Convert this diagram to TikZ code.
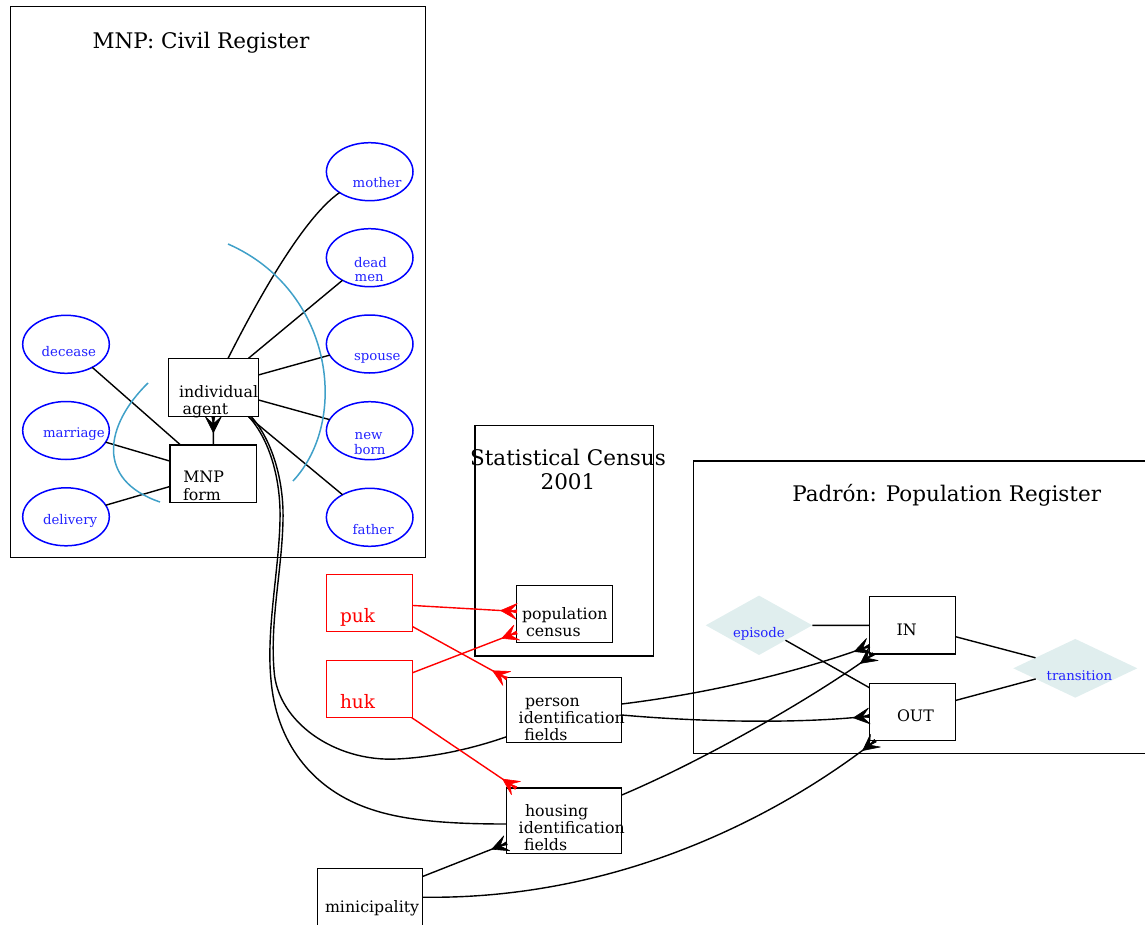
\documentclass[tikz,border=0pt]{standalone}
\usepackage{fontspec}
\setmainfont{DejaVu Serif}
\usetikzlibrary{arrows.meta,shapes.geometric,calc}

\definecolor{arcblue}{HTML}{3FA0C8}
\definecolor{azuretwo}{HTML}{E0EEEE}
\definecolor{labelblue}{HTML}{2222FF}

% crow's-foot tip: apex away from the node, prongs spread at the node
\pgfdeclarearrow{
  name = Crowfoot,
  parameters = {\the\pgfarrowlength,\the\pgfarrowwidth},
  setup code = {
    \pgfarrowssettipend{\pgfarrowlength}
    \pgfarrowssetlineend{\pgfarrowlength}
    \pgfarrowssetbackend{0pt}
    \pgfarrowshullpoint{\pgfarrowlength}{.5\pgfarrowwidth}
    \pgfarrowshullpoint{\pgfarrowlength}{-.5\pgfarrowwidth}
    \pgfarrowshullpoint{0pt}{0pt}
    \pgfarrowssavethe\pgfarrowlength
    \pgfarrowssavethe\pgfarrowwidth
  },
  drawing code = {
    \pgfsetroundjoin
    \pgfpathmoveto{\pgfqpoint{0pt}{0pt}}
    \pgfpathlineto{\pgfqpoint{\pgfarrowlength}{.5\pgfarrowwidth}}
    \pgfpathlineto{\pgfqpoint{.55\pgfarrowlength}{0pt}}
    \pgfpathlineto{\pgfqpoint{\pgfarrowlength}{-.5\pgfarrowwidth}}
    \pgfpathclose
    \pgfpathmoveto{\pgfqpoint{.5\pgfarrowlength}{0pt}}
    \pgfpathlineto{\pgfqpoint{\pgfarrowlength}{.1\pgfarrowwidth}}
    \pgfpathlineto{\pgfqpoint{\pgfarrowlength}{-.1\pgfarrowwidth}}
    \pgfpathclose
    \pgfsetlinewidth{0.6pt}
    \pgfusepathqfillstroke
  },
  defaults = {length = 16pt, width = 16pt}
}

\begin{document}
\begin{tikzpicture}[x=1pt,y=-1pt,
  every node/.style={inner sep=0pt, outer sep=0pt},
  cluster/.style={draw, line width=1.4pt},
  box/.style={draw, line width=1.5pt, rectangle},
  redbox/.style={draw=red, line width=1.4pt, rectangle},
  oval/.style={draw=blue, line width=1.5pt, ellipse, minimum width=86.6pt, minimum height=58pt},
  gem/.style={diamond, fill=azuretwo, draw=none},
  edge/.style={line width=1.4pt},
  crow/.style={-{Crowfoot[length=16pt,width=16pt]}},
  redge/.style={edge, red, crow},
  arc/.style={arcblue, line width=1.5pt},
  title/.style={anchor=base, font=\fontsize{21.5}{24.3}\selectfont},
  lbl/.style={anchor=base west, font=\fontsize{15.8}{18}\selectfont},
  rlbl/.style={anchor=base west, red, font=\fontsize{18.5}{21}\selectfont},
  olbl/.style={anchor=base west, labelblue, font=\fontsize{13.3}{14.7}\selectfont}
]
\useasboundingbox (0,0) rectangle (1145,925);

% ---- clusters ----
\draw[cluster] (10.7,6.7) rectangle (425.7,557.5);
\draw[cluster] (475,425.3) rectangle (653.3,656);
\draw[cluster] (693.3,461) rectangle (1160,753.3);
\node[title] (tMNP) at (201,48.3) {MNP: Civil Register};
\node[title] (tSC1) at (568,465) {Statistical Census};
\node[title] (tSC2) at (568,489.3) {2001};
\node[title] (tPAD) at (946.7,501.7) {Padrón: Population Register};

% ---- civil register ----
\node[box, minimum width=90pt, minimum height=58.4pt] (ia) at (213.3,387.5) {};
\node[box, minimum width=86.7pt, minimum height=57.7pt] (mf) at (213.35,473.85) {};
\node[lbl] (tia1) at (179,397) {individual};
\node[lbl] (tia2) at (182.7,414) {agent};
\node[lbl] (tmf1) at (183.3,482.7) {MNP};
\node[lbl] (tmf2) at (183,500) {form};

\node[oval] (mother) at (369.7,171.7) {};
\node[oval] (deadmen) at (369.7,257.7) {};
\node[oval] (spouse) at (369.7,344) {};
\node[oval] (newborn) at (369.7,430.7) {};
\node[oval] (father) at (369.7,517.3) {};
\node[oval] (decease) at (66,344.3) {};
\node[oval] (marriage) at (66,430.5) {};
\node[oval] (delivery) at (66,516.8) {};
\node[olbl] (tmother) at (352.7,187.7) {mother};
\node[olbl] (tdead) at (354,267) {dead};
\node[olbl] (tmen) at (354.7,281.7) {men};
\node[olbl] (tspouse) at (354,360.7) {spouse};
\node[olbl] (tnew) at (354.7,439) {new};
\node[olbl] (tborn) at (354,454) {born};
\node[olbl] (tfather) at (352.7,534) {father};
\node[olbl] (tdecease) at (41.7,356) {decease};
\node[olbl] (tmarriage) at (43,437.5) {marriage};
\node[olbl] (tdelivery) at (43,524) {delivery};

% ---- census ----
\node[box, minimum width=95.6pt, minimum height=57pt] (pc) at (564.5,614.2) {};
\node[lbl] (tpc1) at (522,619.3) {population};
\node[lbl] (tpc2) at (526,636) {census};

% ---- keys and fields ----
\node[redbox, minimum width=86pt, minimum height=57.4pt] (puk) at (369.7,603) {};
\node[redbox, minimum width=86pt, minimum height=57pt] (huk) at (369.7,689.2) {};
\node[rlbl] (tpuk) at (340,622.7) {puk};
\node[rlbl] (thuk) at (340,708.3) {huk};

\node[box, minimum width=115pt, minimum height=65.4pt] (pif) at (564.2,710) {};
\node[lbl] (tpif1) at (525,706) {person};
\node[lbl] (tpif2) at (518.7,723.3) {identification};
\node[lbl] (tpif3) at (524.3,740.3) {fields};
\node[box, minimum width=115pt, minimum height=65.3pt] (hif) at (564.2,820.7) {};
\node[lbl] (thif1) at (525,816.7) {housing};
\node[lbl] (thif2) at (518.7,833) {identification};
\node[lbl] (thif3) at (524,850.7) {fields};
\node[box, minimum width=105.4pt, minimum height=57.8pt] (mun) at (370,897.2) {};
\node[lbl] (tmun) at (325,912.7) {minicipality};

% ---- population register ----
\node[gem, minimum width=106.6pt, minimum height=59.4pt] (ep) at (759,625.3) {};
\node[gem, minimum width=124pt, minimum height=58.7pt] (tr) at (1075.3,668.3) {};
\node[olbl] (tep) at (733,637.3) {episode};
\node[olbl] (ttr) at (1046.7,680.7) {transition};
\node[box, minimum width=86.4pt, minimum height=57.3pt] (IN) at (912.5,625.35) {};
\node[box, minimum width=86.4pt, minimum height=57.4pt] (OUT) at (912.5,712) {};
\node[lbl] (tIN) at (896.7,635) {IN};
\node[lbl] (tOUT) at (897,721) {OUT};

% ---- civil register edges ----
\draw[edge] (ia) .. controls (250,315) and (300,220) .. (mother);
\draw[edge] (ia) -- (deadmen);
\draw[edge] (ia) -- (spouse);
\draw[edge] (ia) -- (newborn);
\draw[edge] (ia) -- (father);
\draw[edge] (decease) -- (mf);
\draw[edge] (marriage) -- (mf);
\draw[edge] (delivery) -- (mf);
\draw[edge, crow] (mf) -- (ia);

% decorative arcs
\draw[arc] (228,244) .. controls (333,290) and (350,420) .. (293,481);
\draw[arc] (148,383) .. controls (105,425) and (95,480) .. (160,502);

% ---- long links out of the civil register ----
\draw[edge] ($(ia.south east)+(-7,0)$) .. controls (272,440) and (284,480) .. (283,520)
  .. controls (282,570) and (270,620) .. (274,670)
  .. controls (277,722) and (335,762) .. (396.7,759)
  .. controls (440,757) and (480,746) .. ($(pif.south west)+(0,-6)$);
\draw[edge] ($(ia.south east)+(-9.5,0)$) .. controls (270,440) and (281,480) .. (280,520)
  .. controls (279,570) and (266,630) .. (271,680)
  .. controls (276,740) and (310,790) .. (373.3,810)
  .. controls (410,822) and (460,824) .. ($(hif.west)+(0,3.3)$);

% ---- keys ----
\draw[redge] (puk) -- (pc);
\draw[redge] (huk) -- (pc);
\draw[redge] (puk) -- (pif);
\draw[redge] (huk) -- (hif);

% ---- fields to register ----
\draw[edge, crow] ($(pif.east)+(0,-6)$) .. controls (720,692) and (810,668) .. ($(IN.south west)+(0,-8)$);
\draw[edge, crow] ($(pif.east)+(0,5)$) .. controls (700,722) and (800,724) .. ($(OUT.west)+(0,4)$);
\draw[edge, crow] ($(hif.north east)+(0,7)$) .. controls (700,762) and (810,700) .. ($(IN.south west)+(4,0)$);
\draw[edge, crow] (mun.east) .. controls (620,900) and (780,815) .. ($(OUT.south west)+(6,0)$);
\draw[edge, crow] (mun) -- (hif);

% ---- register internals ----
\draw[edge] (ep) -- (IN);
\draw[edge] (ep) -- (OUT);
\draw[edge] (IN) -- (tr);
\draw[edge] (OUT) -- (tr);
\end{tikzpicture}
\end{document}
